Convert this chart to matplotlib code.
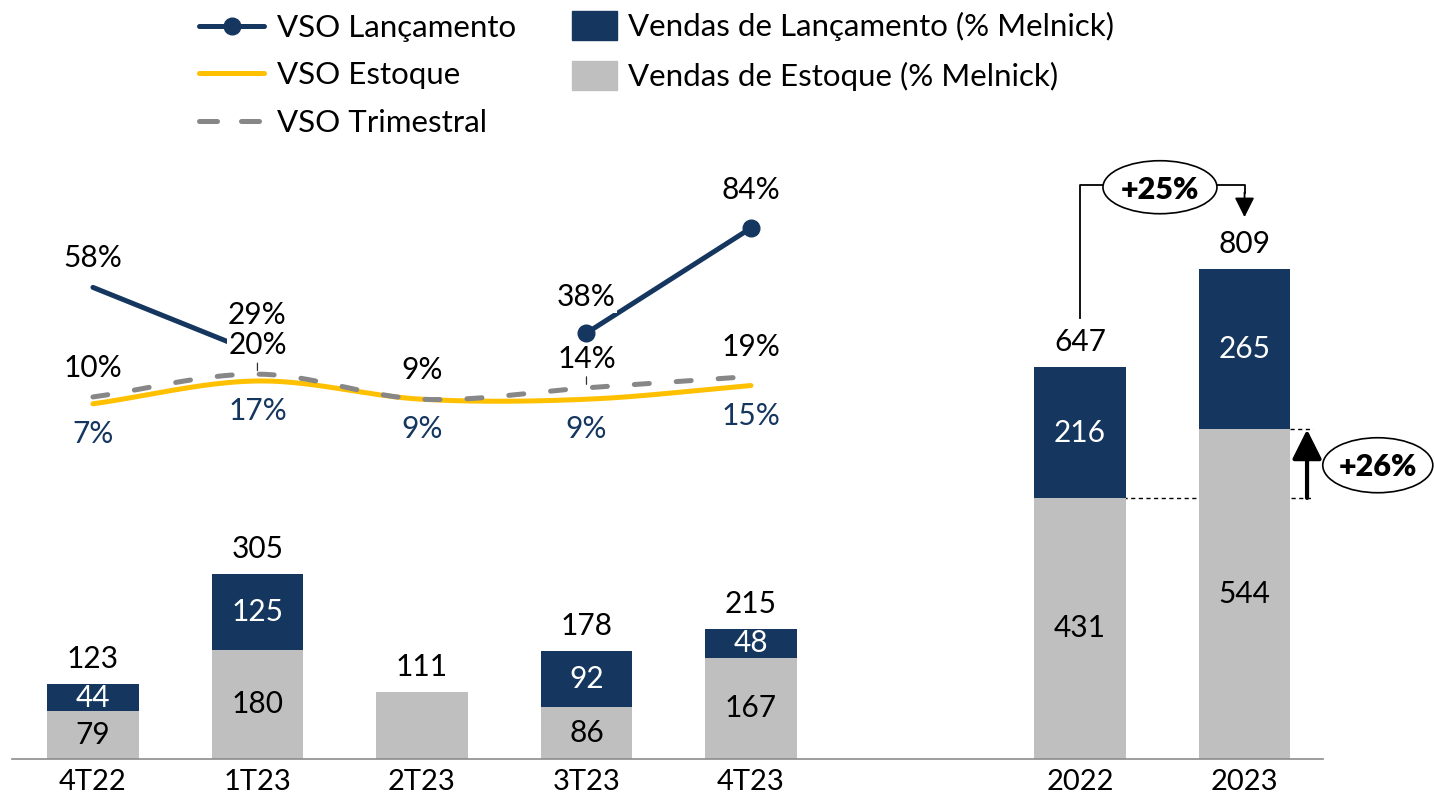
import matplotlib
matplotlib.use('Agg')
import matplotlib.pyplot as plt
import numpy as np
from matplotlib.patches import Ellipse, Patch
from matplotlib.lines import Line2D

plt.rcParams['font.family'] = ['Lato', 'DejaVu Sans']

# ---------------- data ----------------
categories = ['4T22', '1T23', '2T23', '3T23', '4T23', '2022', '2023']
positions = [0, 1, 2, 3, 4, 6, 7]
vendas_estoque = [79, 180, 111, 86, 167, 431, 544]
vendas_lancamento = [44, 125, 0, 92, 48, 216, 265]
totals = [123, 305, 111, 178, 215, 647, 809]

quarter_pos = [0, 1, 2, 3, 4]
vso_lancamento = [58, 29, np.nan, 38, 84]
vso_estoque = [7, 17, 9, 9, 15]
vso_trimestral = [10, 20, 9, 14, 19]

growth_total = '+25%'
growth_estoque = '+26%'

# ---------------- style ----------------
NAVY = '#14365f'
GRAY = '#bfbfbf'
YELLOW = '#ffc000'
DGRAY = '#878787'
FS = 21.5
LFS = 22.5

W, H = 1434, 800
fig = plt.figure(figsize=(W / 100, H / 100), dpi=100)
ax = fig.add_axes([12 / W, (H - 759) / H, (1323 - 12) / W, 759 / H])
ax.set_xlim(-0.492, 7.477)
ax.set_ylim(0, 759 / 0.6057)
ax2 = ax.twinx()
ax2.set_ylim(-148.6, 183.9)

for a in (ax, ax2):
    for s in ('top', 'right', 'left'):
        a.spines[s].set_visible(False)
    a.set_yticks([])
ax2.spines['bottom'].set_visible(False)
ax.spines['bottom'].set_color('#8c8c8c')
ax.spines['bottom'].set_linewidth(1.2)

BW = 0.555
ax.bar(positions, vendas_estoque, width=BW, color=GRAY, zorder=2)
ax.bar(positions, vendas_lancamento, width=BW, bottom=vendas_estoque,
       color=NAVY, zorder=2)

for x, e, l, t in zip(positions, vendas_estoque, vendas_lancamento, totals):
    if l > 0:
        ax.text(x, e / 2, f'{e}', ha='center', va='center', fontsize=FS,
                color='black', zorder=3)
        ax.text(x, e + l / 2, f'{l}', ha='center', va='center', fontsize=FS,
                color='white', zorder=3)
    ax.annotate(f'{t}', (x, t), xytext=(0, 25), textcoords='offset pixels',
                ha='center', va='center', fontsize=FS, color='black')

ax.set_xticks(positions, categories)
ax.tick_params(axis='x', length=0, pad=7, labelsize=21)


# ---------------- lines ----------------
def smooth(xs, ys, n=40):
    pts = np.column_stack([xs, ys]).astype(float)
    P = np.vstack([2 * pts[0] - pts[1], pts, 2 * pts[-1] - pts[-2]])
    out = []
    t = np.linspace(0, 1, n)[:, None]
    for i in range(1, len(P) - 2):
        p0, p1, p2, p3 = P[i - 1], P[i], P[i + 1], P[i + 2]
        seg = 0.5 * ((2 * p1) + (-p0 + p2) * t
                     + (2 * p0 - 5 * p1 + 4 * p2 - p3) * t ** 2
                     + (-p0 + 3 * p1 - 3 * p2 + p3) * t ** 3)
        out.append(seg)
    return np.vstack(out)


LW = 3.6
s_est = smooth(quarter_pos, vso_estoque)
ax2.plot(s_est[:, 0], s_est[:, 1], color=YELLOW, lw=LW,
         solid_capstyle='round', zorder=3)
s_tri = smooth(quarter_pos, vso_trimestral)
ax2.plot(s_tri[:, 0], s_tri[:, 1], color=DGRAY, lw=LW, dashes=(3.0, 5.4),
         dash_capstyle='round', zorder=4)
ax2.plot(quarter_pos, vso_lancamento, color=NAVY, lw=LW, marker='o',
         ms=12, markevery=[3, 4], solid_capstyle='round', zorder=5)

lanc_off = [29, 39, 0, 36, 38]
for x, v, o in zip(quarter_pos, vso_lancamento, lanc_off):
    if np.isnan(v):
        continue
    ax2.annotate(f'{v:.0f}%', (x, v), xytext=(0, o), textcoords='offset pixels',
                 ha='center', va='center', fontsize=FS, color='black',
                 bbox=dict(boxstyle='square,pad=0.05', fc='white', ec='none'),
                 zorder=7)
for x, v in zip(quarter_pos, vso_trimestral):
    ax2.annotate(f'{v}%', (x, v), xytext=(0, 29), textcoords='offset pixels',
                 ha='center', va='center', fontsize=FS, color='black',
                 bbox=dict(boxstyle='square,pad=0.05', fc='white', ec='none'),
                 zorder=6)
# small leader lines of the quarterly labels
for i in (1, 3):
    ax2.annotate('', (quarter_pos[i], vso_trimestral[i]), xytext=(0, 11),
                 textcoords='offset pixels',
                 arrowprops=dict(arrowstyle='-', lw=0.9, color='#333333',
                                 shrinkA=0, shrinkB=2.5), zorder=6)
for x, v in zip(quarter_pos, vso_estoque):
    ax2.annotate(f'{v}%', (x, v), xytext=(0, -30), textcoords='offset pixels',
                 ha='center', va='center', fontsize=FS, color=NAVY, zorder=6)

# ---------------- annotations ----------------
# +25% bracket
ax.plot([6, 6, 7, 7], [728, 948, 948, 935], color='black', lw=1.3, zorder=3,
        clip_on=False)
ax.annotate('', xy=(7, 890), xytext=(7, 940),
            arrowprops=dict(arrowstyle='-|>,head_length=0.6,head_width=0.3',
                            color='black', lw=1.3, mutation_scale=20))
ax.add_patch(Ellipse((6.486, 944), 0.693, 87.5, fc='white', ec='black',
                     lw=1.2, zorder=4, clip_on=False))
ax.text(6.486, 940, growth_total, ha='center', va='center', fontsize=22,
        fontweight='heavy', zorder=5)

# +26% estoque
ax.plot([6.26, 7.417], [vendas_estoque[5]] * 2, color='black', lw=1,
        dashes=(3, 2.5), zorder=1)
ax.plot([7.2775, 7.417], [vendas_estoque[6]] * 2, color='black', lw=1,
        dashes=(3, 2.5), zorder=1)
ax.annotate('', xy=(7.38, vendas_estoque[6]), xytext=(7.38, vendas_estoque[5]),
            arrowprops=dict(arrowstyle='-|>,head_length=0.9,head_width=0.45',
                            color='black', lw=3, mutation_scale=20,
                            shrinkA=0, shrinkB=0))
ax.add_patch(Ellipse((7.81, 485), 0.669, 90.8, fc='white', ec='black',
                     lw=1.2, zorder=4, clip_on=False))
ax.text(7.81, 482, growth_estoque, ha='center', va='center', fontsize=22,
        fontweight='heavy', zorder=5, clip_on=False)

# ---------------- legends ----------------
h1 = [Line2D([], [], color=NAVY, lw=LW, marker='o', ms=12,
             solid_capstyle='round'),
      Line2D([], [], color=YELLOW, lw=LW, solid_capstyle='round'),
      Line2D([], [], color=DGRAY, lw=LW, dashes=(3.6, 4.8),
             dash_capstyle='round')]
l1 = ['VSO Lançamento', 'VSO Estoque', 'VSO Trimestral']
leg1 = fig.legend(h1, l1, loc='upper left', bbox_to_anchor=(199 / W, 1 - 14 / H),
                  frameon=False, fontsize=LFS, handlelength=46.8 / LFS,
                  handletextpad=9.4 / LFS, labelspacing=0.62, borderpad=0,
                  borderaxespad=0)
h2 = [Patch(color=NAVY), Patch(color=GRAY)]
l2 = ['Vendas de Lançamento (% Melnick)', 'Vendas de Estoque (% Melnick)']
leg2 = fig.legend(h2, l2, loc='upper left', bbox_to_anchor=(572 / W, 1 - 11 / H),
                  frameon=False, fontsize=LFS, handlelength=32.4 / LFS,
                  handleheight=23.8 / LFS, handletextpad=8 / LFS,
                  labelspacing=0.62, borderpad=0, borderaxespad=0)

fig.savefig('out.png', dpi=100)
